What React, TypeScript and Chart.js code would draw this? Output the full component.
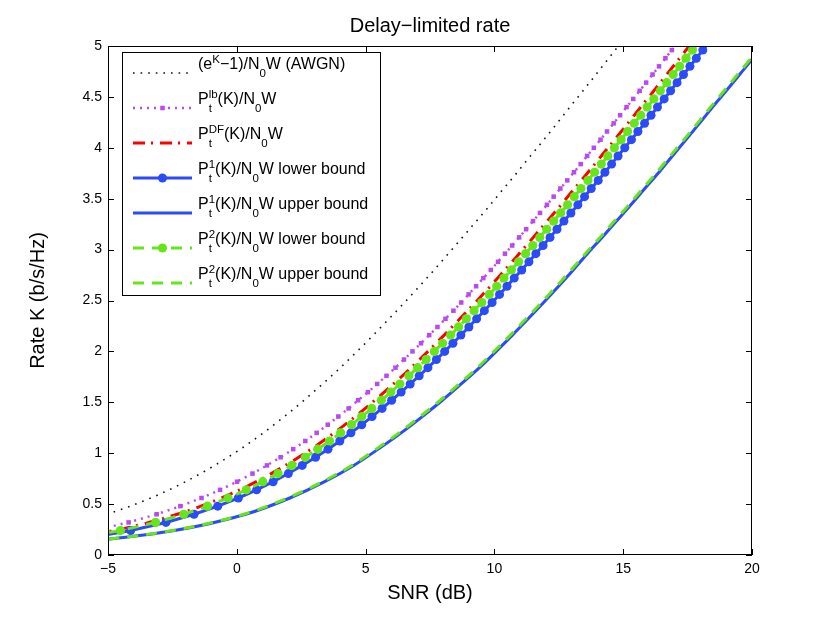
import { useEffect, useRef } from 'react';
import Chart from 'chart.js/auto';

// rate K (b/s/Hz) at which the marker curves were evaluated
const RATE_FINE = [
  0.08, 0.16, 0.24, 0.32, 0.40, 0.48, 0.56, 0.64, 0.72, 0.80, 0.88, 0.96, 1.04, 1.12, 1.20, 1.28,
  1.36, 1.44, 1.52, 1.60, 1.68, 1.76, 1.84, 1.92, 2.00, 2.08, 2.16, 2.24, 2.32, 2.40, 2.48, 2.56,
  2.64, 2.72, 2.80, 2.88, 2.96, 3.04, 3.12, 3.20, 3.28, 3.36, 3.44, 3.52, 3.60, 3.68, 3.76, 3.84,
  3.92, 4.00, 4.08, 4.16, 4.24, 4.32, 4.40, 4.48, 4.56, 4.64, 4.72, 4.80, 4.88, 4.96, 5.04,
];
// coarser rate grid for the plain curves
const RATE_COARSE = [
  0.08, 0.24, 0.40, 0.56, 0.72, 0.88, 1.04, 1.20, 1.36, 1.52, 1.68, 1.84, 2.00, 2.16, 2.32, 2.48,
  2.64, 2.80, 2.96, 3.12, 3.28, 3.44, 3.60, 3.76, 3.92, 4.08, 4.24, 4.40, 4.56, 4.72, 4.88, 5.04,
];

// SNR (dB) needed for each rate
const SNR_AWGN = [
  -12.54, -7.52, -5.06, -3.34, -1.99, -0.86, 0.14, 1.03, 1.85, 2.61, 3.33, 4.02, 4.67, 5.30, 5.91, 6.51,
  7.09, 7.66, 8.21, 8.76, 9.30, 9.84, 10.36, 10.89, 11.40, 11.92, 12.43, 12.93, 13.44, 13.94, 14.44, 14.94,
];
const SNR_LB = [
  -10.59, -7.46, -5.57, -4.20, -3.11, -2.19, -1.37, -0.65, 0.01, 0.61, 1.17, 1.70, 2.19, 2.66, 3.10, 3.53,
  3.94, 4.34, 4.71, 5.09, 5.45, 5.81, 6.16, 6.49, 6.82, 7.15, 7.47, 7.79, 8.10, 8.41, 8.71, 9.00,
  9.29, 9.57, 9.86, 10.14, 10.41, 10.69, 10.96, 11.23, 11.50, 11.77, 12.04, 12.30, 12.56, 12.83, 13.09, 13.35,
  13.60, 13.86, 14.12, 14.37, 14.63, 14.88, 15.13, 15.39, 15.64, 15.89, 16.14, 16.39, 16.64, 16.89, 17.14,
];
const SNR_DF = [
  -9.79, -4.77, -2.31, -0.59, 0.76, 1.89, 2.89, 3.78, 4.60, 5.36, 6.08, 6.77, 7.42, 8.05, 8.66, 9.26,
  9.84, 10.41, 10.96, 11.51, 12.05, 12.59, 13.11, 13.64, 14.15, 14.67, 15.18, 15.68, 16.19, 16.69, 17.19, 17.69,
];
const SNR_P1_LOWER = [
  -9.14, -6.01, -4.12, -2.75, -1.66, -0.74, 0.06, 0.77, 1.41, 2.00, 2.54, 3.06, 3.54, 4.00, 4.43, 4.85,
  5.25, 5.64, 6.01, 6.38, 6.73, 7.08, 7.42, 7.75, 8.07, 8.39, 8.70, 9.01, 9.31, 9.61, 9.91, 10.20,
  10.49, 10.77, 11.06, 11.34, 11.61, 11.89, 12.16, 12.43, 12.70, 12.97, 13.24, 13.50, 13.76, 14.03, 14.29, 14.55,
  14.80, 15.06, 15.32, 15.57, 15.83, 16.08, 16.33, 16.59, 16.84, 17.09, 17.34, 17.59, 17.84, 18.09, 18.34,
];
const SNR_P1_UPPER = [
  -7.84, -2.42, 0.34, 2.06, 3.41, 4.54, 5.49, 6.38, 7.20, 7.98, 8.71, 9.42, 10.07, 10.70, 11.31, 11.91,
  12.49, 13.06, 13.61, 14.18, 14.74, 15.30, 15.84, 16.39, 16.91, 17.44, 17.96, 18.47, 19.00, 19.52, 20.04, 20.54,
];
const SNR_P2_LOWER = [
  -9.54, -6.41, -4.52, -3.15, -2.06, -1.14, -0.34, 0.37, 1.01, 1.60, 2.14, 2.66, 3.14, 3.60, 4.03, 4.45,
  4.85, 5.24, 5.61, 5.98, 6.33, 6.68, 7.02, 7.35, 7.67, 7.99, 8.30, 8.61, 8.91, 9.21, 9.51, 9.80,
  10.09, 10.37, 10.66, 10.94, 11.21, 11.49, 11.76, 12.03, 12.30, 12.57, 12.84, 13.10, 13.36, 13.63, 13.89, 14.15,
  14.40, 14.66, 14.92, 15.17, 15.43, 15.68, 15.93, 16.19, 16.44, 16.69, 16.94, 17.19, 17.44, 17.69, 17.94,
];
const SNR_P2_UPPER = [
  -7.92, -2.50, 0.26, 1.98, 3.33, 4.46, 5.41, 6.30, 7.12, 7.90, 8.63, 9.34, 9.99, 10.62, 11.23, 11.83,
  12.41, 12.98, 13.53, 14.10, 14.66, 15.22, 15.76, 16.31, 16.83, 17.36, 17.88, 18.39, 18.92, 19.44, 19.96, 20.46,
];

const X_TICKS = [-5, 0, 5, 10, 15, 20];
const Y_TICKS = [0, 0.5, 1, 1.5, 2, 2.5, 3, 3.5, 4, 4.5, 5];

// legend labels as rich text: n = normal, sub, sup, ss = stacked sub + sup
const LEGEND_LABELS: string[][][] = [
  [['n', '(e'], ['sup', 'K'], ['n', '\u22121)/N'], ['sub', '0'], ['n', 'W (AWGN)']],
  [['n', 'P'], ['ss', 't', 'lb'], ['n', '(K)/N'], ['sub', '0'], ['n', 'W']],
  [['n', 'P'], ['ss', 't', 'DF'], ['n', '(K)/N'], ['sub', '0'], ['n', 'W']],
  [['n', 'P'], ['ss', 't', '1'], ['n', '(K)/N'], ['sub', '0'], ['n', 'W lower bound']],
  [['n', 'P'], ['ss', 't', '1'], ['n', '(K)/N'], ['sub', '0'], ['n', 'W upper bound']],
  [['n', 'P'], ['ss', 't', '2'], ['n', '(K)/N'], ['sub', '0'], ['n', 'W lower bound']],
  [['n', 'P'], ['ss', 't', '2'], ['n', '(K)/N'], ['sub', '0'], ['n', 'W upper bound']],
];

const FONT = '"Liberation Sans", Arial, Helvetica, sans-serif';
const BLUE = '#2a4bf7';
const GREEN = '#66e61a';
const PURPLE = '#b94af2';
const RED = '#ff0000';

const toPoints = (snr: number[], rate: number[]) => snr.map((x, i) => ({ x, y: rate[i] }));

const framePlugin = {
  id: 'matlabFrame',
  afterDatasetsDraw(chart: any) {
    const { ctx, chartArea: a, scales } = chart;
    ctx.save();
    ctx.strokeStyle = '#000';
    ctx.lineWidth = 1;
    ctx.setLineDash([]);
    ctx.strokeRect(a.left + 0.5, a.top + 0.5, a.right - a.left - 1, a.bottom - a.top - 1);
    const tl = 6;
    ctx.beginPath();
    X_TICKS.forEach((v) => {
      const px = Math.round(scales.x.getPixelForValue(v)) + 0.5;
      ctx.moveTo(px, a.bottom);
      ctx.lineTo(px, a.bottom - tl);
      ctx.moveTo(px, a.top);
      ctx.lineTo(px, a.top + tl);
    });
    Y_TICKS.forEach((v) => {
      const py = Math.round(scales.y.getPixelForValue(v)) + 0.5;
      ctx.moveTo(a.left, py);
      ctx.lineTo(a.left + tl, py);
      ctx.moveTo(a.right, py);
      ctx.lineTo(a.right - tl, py);
    });
    ctx.stroke();
    ctx.restore();
  },
  afterDraw(chart: any) {
    const { ctx, chartArea: a } = chart;
    const cx = (a.left + a.right) / 2;
    ctx.save();
    ctx.fillStyle = '#000';
    ctx.textAlign = 'center';
    ctx.textBaseline = 'alphabetic';
    ctx.font = `20px ${FONT}`;
    ctx.fillText('Delay\u2212limited rate', cx, 31.5);
    ctx.fillText('SNR (dB)', cx, 599);
    ctx.save();
    ctx.translate(44, (a.top + a.bottom) / 2);
    ctx.rotate(-Math.PI / 2);
    ctx.fillText('Rate K (b/s/Hz)', 0, 0);
    ctx.restore();

    // legend box
    const bx = 122.5, by = 52.5, bw = 258, bh = 243;
    ctx.fillStyle = '#fff';
    ctx.fillRect(bx, by, bw, bh);
    ctx.strokeStyle = '#000';
    ctx.lineWidth = 1;
    ctx.strokeRect(bx, by, bw, bh);

    chart.data.datasets.forEach((ds: any, i: number) => {
      const ly = 73 + i * 35;
      ctx.save();
      ctx.strokeStyle = ds.borderColor;
      ctx.lineWidth = ds.borderWidth;
      ctx.setLineDash(ds.borderDash || []);
      ctx.beginPath();
      ctx.moveTo(133, ly);
      ctx.lineTo(192, ly);
      ctx.stroke();
      ctx.setLineDash([]);
      if (ds.pointRadius > 0) {
        ctx.fillStyle = ds.pointBackgroundColor;
        const r = ds.pointRadius;
        if (ds.pointStyle === 'rect') {
          const s = r * Math.SQRT1_2;
          ctx.fillRect(162.5 - s, ly - s, 2 * s, 2 * s);
        } else {
          ctx.beginPath();
          ctx.arc(162.5, ly, r, 0, Math.PI * 2);
          ctx.fill();
        }
      }
      ctx.restore();

      // rich label
      let x = 198;
      const base = ly - 4;
      ctx.fillStyle = '#000';
      ctx.textAlign = 'left';
      LEGEND_LABELS[i].forEach((seg) => {
        const [kind, a1, a2] = seg;
        if (kind === 'n') {
          ctx.font = `16px ${FONT}`;
          ctx.fillText(a1, x, base);
          x += ctx.measureText(a1).width;
        } else if (kind === 'sub') {
          ctx.font = `11.5px ${FONT}`;
          ctx.fillText(a1, x, base + 8);
          x += ctx.measureText(a1).width;
        } else if (kind === 'sup') {
          ctx.font = `11.5px ${FONT}`;
          ctx.fillText(a1, x, base - 6.5);
          x += ctx.measureText(a1).width;
        } else {
          ctx.font = `11.5px ${FONT}`;
          ctx.fillText(a1, x, base + 8);
          ctx.fillText(a2, x, base - 6.5);
          x += Math.max(ctx.measureText(a1).width, ctx.measureText(a2).width);
        }
      });
    });
    ctx.restore();
  },
};

export default function App() {
  const canvasRef = useRef<HTMLCanvasElement | null>(null);
  const chartRef = useRef<Chart | null>(null);

  useEffect(() => {
    document.body.style.margin = '0';
    if (!canvasRef.current) return;
    if (chartRef.current) chartRef.current.destroy();

    const datasets: any[] = [
      {
        label: '(e^K-1)/N0W (AWGN)',
        data: toPoints(SNR_AWGN, RATE_COARSE),
        borderColor: '#111',
        borderWidth: 1.6,
        borderDash: [1.6, 6],
        pointRadius: 0,
        cubicInterpolationMode: 'monotone',
      },
      {
        label: 'Pt^lb(K)/N0W',
        data: toPoints(SNR_LB, RATE_FINE),
        borderColor: PURPLE,
        borderWidth: 2.5,
        borderDash: [2, 5],
        pointRadius: 3.2,
        pointStyle: 'rect',
        pointBackgroundColor: PURPLE,
        pointBorderWidth: 0,
      },
      {
        label: 'Pt^DF(K)/N0W',
        data: toPoints(SNR_DF, RATE_COARSE),
        borderColor: RED,
        borderWidth: 3,
        borderDash: [12, 6, 2, 7],
        pointRadius: 0,
        cubicInterpolationMode: 'monotone',
      },
      {
        label: 'Pt^1(K)/N0W lower bound',
        data: toPoints(SNR_P1_LOWER, RATE_FINE),
        borderColor: BLUE,
        borderWidth: 3,
        pointRadius: 4.5,
        pointStyle: 'circle',
        pointBackgroundColor: BLUE,
        pointBorderWidth: 0,
      },
      {
        label: 'Pt^1(K)/N0W upper bound',
        data: toPoints(SNR_P1_UPPER, RATE_COARSE),
        borderColor: BLUE,
        borderWidth: 3,
        pointRadius: 0,
        cubicInterpolationMode: 'monotone',
      },
      {
        label: 'Pt^2(K)/N0W lower bound',
        data: toPoints(SNR_P2_LOWER, RATE_FINE),
        borderColor: GREEN,
        borderWidth: 3,
        borderDash: [11, 8],
        pointRadius: 4.6,
        pointStyle: 'circle',
        pointBackgroundColor: GREEN,
        pointBorderWidth: 0,
      },
      {
        label: 'Pt^2(K)/N0W upper bound',
        data: toPoints(SNR_P2_UPPER, RATE_COARSE),
        borderColor: GREEN,
        borderWidth: 3,
        borderDash: [11, 8],
        pointRadius: 0,
        cubicInterpolationMode: 'monotone',
      },
    ];
    // later series are drawn on top, as in the original plot
    datasets.forEach((ds, i) => {
      ds.order = datasets.length - i;
      ds.fill = false;
    });

    chartRef.current = new Chart(canvasRef.current, {
      type: 'line',
      data: { datasets },
      options: {
        responsive: false,
        animation: false,
        devicePixelRatio: 1,
        layout: { padding: { top: 46, right: 78, bottom: 0, left: 0 } },
        plugins: {
          legend: { display: false },
          title: { display: false },
          tooltip: { enabled: false },
        },
        scales: {
          x: {
            type: 'linear',
            min: -5,
            max: 20,
            afterFit: (s: any) => { s.height = 68; },
            afterBuildTicks: (s: any) => { s.ticks = X_TICKS.map((v) => ({ value: v })); },
            ticks: {
              color: '#000',
              font: { family: FONT, size: 14 },
              padding: 6,
              maxRotation: 0,
              callback: (v: any) => String(v).replace('-', '\u2212'),
            },
            grid: { display: false, drawTicks: false },
            border: { display: false },
          },
          y: {
            type: 'linear',
            min: 0,
            max: 5,
            afterFit: (s: any) => { s.width = 108; },
            afterBuildTicks: (s: any) => { s.ticks = Y_TICKS.map((v) => ({ value: v })); },
            ticks: {
              color: '#000',
              font: { family: FONT, size: 14 },
              padding: 6,
              callback: (v: any) => String(v),
            },
            grid: { display: false, drawTicks: false },
            border: { display: false },
          },
        },
      },
      plugins: [framePlugin],
    } as any);

    return () => {
      if (chartRef.current) {
        chartRef.current.destroy();
        chartRef.current = null;
      }
    };
  }, []);

  return (
    <div style={{ position: 'absolute', left: 0, top: 0, width: 830, height: 623, background: '#fff' }}>
      <canvas ref={canvasRef} width={830} height={623} style={{ width: 830, height: 623 }} />
    </div>
  );
}
